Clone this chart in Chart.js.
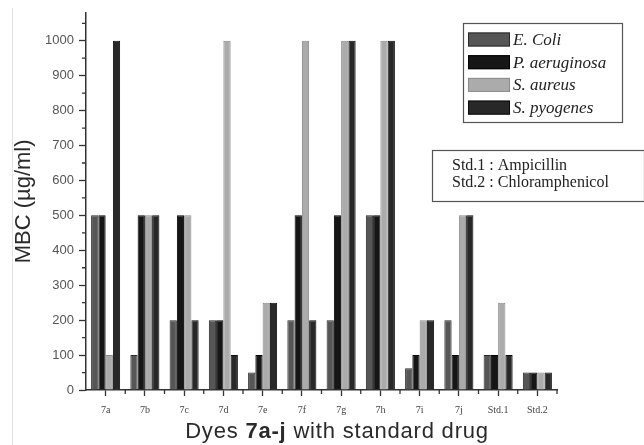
<!DOCTYPE html>
<html>
<head>
<meta charset="utf-8">
<script src="https://cdn.jsdelivr.net/npm/chart.js@4.4.1/dist/chart.umd.min.js"></script>
<style>
  body { margin: 0; background: #fff; }
  canvas { display: block; }
</style>
</head>
<body>
<canvas id="mbcChart" width="644" height="445"></canvas>
<script>
// dyes + standard drugs
const categories = ['7a', '7b', '7c', '7d', '7e', '7f', '7g', '7h', '7i', '7j', 'Std.1', 'Std.2'];

// MBC values (ug/ml)
const eColi       = [500, 100, 200, 200, 50, 200, 200, 500, 62.5, 200, 100, 50];
const pAeruginosa = [500, 500, 500, 200, 100, 500, 500, 500, 100, 100, 100, 50];
const sAureus     = [100, 500, 500, 1000, 250, 1000, 1000, 1000, 200, 500, 250, 50];
const sPyogenes   = [1000, 500, 200, 100, 250, 200, 1000, 1000, 200, 500, 100, 50];

const seriesNames = ['E. Coli', 'P. aeruginosa', 'S. aureus', 'S. pyogenes'];
const yTicks = [0, 100, 200, 300, 400, 500, 600, 700, 800, 900, 1000];
const stdNotes = ['Std.1 : Ampicillin', 'Std.2 : Chloramphenicol'];

const fillColors = ['#565656', '#161616', '#ababab', '#282828'];
const edgeColors = ['#2a2a2a', '#000000', '#8a8a8a', '#0a0a0a'];

//build datasets
function makeDataset(i, values){
    return {
        label: seriesNames[i],
        data: values,
        backgroundColor: fillColors[i],
        borderColor: edgeColors[i],
        borderWidth: 1,
        categoryPercentage: 0.74,
        barPercentage: 1.0
    };
}

// minor ticks, legend boxes and the x title (part of it is bold)
const extrasPlugin = {
    id: 'extras',
    afterDraw(chart){
        const ctx = chart.ctx;
        const x = chart.scales.x;
        const y = chart.scales.y;
        ctx.save();

        // faint scan border on the left
        ctx.strokeStyle = '#e2e2e2';
        ctx.lineWidth = 1;
        ctx.beginPath();
        ctx.moveTo(12.5, 8);
        ctx.lineTo(12.5, 445);
        ctx.stroke();

        // minor ticks
        ctx.strokeStyle = '#333';
        ctx.lineWidth = 1.3;
        ctx.beginPath();
        for(let v = 50; v <= 1050; v += 100){
            const py = y.getPixelForValue(v);
            ctx.moveTo(x.left - 4, py);
            ctx.lineTo(x.left, py);
        }
        for(let i = 0; i < categories.length; i++){
            const px = (x.getPixelForValue(i) + x.getPixelForValue(i + 1)) / 2;
            ctx.moveTo(px, y.bottom);
            ctx.lineTo(px, y.bottom + 4);
        }
        ctx.stroke();

        // legend box
        ctx.fillStyle = '#fff';
        ctx.strokeStyle = '#555';
        ctx.lineWidth = 1.2;
        ctx.fillRect(463, 23, 160, 100);
        ctx.strokeRect(463.5, 23.5, 159, 99);
        ctx.font = 'italic 17px "Liberation Serif"';
        ctx.textBaseline = 'middle';
        chart.data.datasets.forEach((ds, i) => {
            const cy = 39.5 + i * 22.7;
            ctx.fillStyle = ds.backgroundColor;
            ctx.fillRect(468, cy - 7, 42, 14);
            ctx.strokeStyle = ds.borderColor;
            ctx.lineWidth = 1;
            ctx.strokeRect(468.5, cy - 6.5, 41, 13);
            ctx.fillStyle = '#222';
            ctx.fillText(ds.label, 513, cy + 1);
        });

        // standard drug note
        ctx.strokeStyle = '#555';
        ctx.lineWidth = 1.2;
        ctx.strokeRect(432.5, 150.5, 212, 51);
        ctx.font = '16px "Liberation Serif"';
        ctx.fillStyle = '#222';
        stdNotes.forEach((t, i) => ctx.fillText(t, 452, 166 + i * 17));

        // x title: "Dyes 7a-j with standard drug"
        const parts = [['Dyes ', ''], ['7a-j', 'bold '], [' with standard drug', '']];
        ctx.letterSpacing = '0.8px';
        ctx.textBaseline = 'alphabetic';
        let total = 0;
        parts.forEach(p => {
            ctx.font = p[1] + '22px "Liberation Sans"';
            total += ctx.measureText(p[0]).width;
        });
        let tx = 337 - total / 2;
        ctx.fillStyle = '#2a2a2a';
        parts.forEach(p => {
            ctx.font = p[1] + '22px "Liberation Sans"';
            ctx.fillText(p[0], tx, 438);
            tx += ctx.measureText(p[0]).width;
        });
        ctx.restore();
    }
};

const canvas = document.getElementById('mbcChart').getContext('2d');
new Chart(canvas, {
    type: 'bar',
    data: {
        labels: categories,
        datasets: [
            makeDataset(0, eColi),
            makeDataset(1, pAeruginosa),
            makeDataset(2, sAureus),
            makeDataset(3, sPyogenes)
        ]
    },
    options: {
        responsive: false,
        animation: false,
        layout: {
            padding: { left: 0, right: 87, top: 10, bottom: 0 }
        },
        plugins: {
            legend: { display: false },
            tooltip: { enabled: false }
        },
        scales: {
            x: {
                offset: true,
                afterFit(scale){ scale.height = 55; },
                grid: {
                    offset: false,
                    drawOnChartArea: false,
                    tickLength: 6,
                    tickWidth: 1.3,
                    tickColor: '#333'
                },
                border: { display: true, color: '#333', width: 1.5 },
                ticks: {
                    padding: 8,
                    color: '#444',
                    font: { family: 'Liberation Serif', size: 10 }
                }
            },
            y: {
                min: 0,
                max: 1080,
                afterFit(scale){ scale.width = 86; },
                afterBuildTicks(scale){
                    scale.ticks = yTicks.map(v => ({ value: v }));
                },
                grid: {
                    drawOnChartArea: false,
                    tickLength: 7,
                    tickWidth: 1.3,
                    tickColor: '#333'
                },
                border: { display: true, color: '#333', width: 1.5 },
                ticks: {
                    padding: 5,
                    color: '#555',
                    font: { family: 'Liberation Sans', size: 13 },
                    callback: v => String(v)
                },
                title: {
                    display: true,
                    text: 'MBC (µg/ml)',
                    color: '#2a2a2a',
                    padding: { top: 11, bottom: 0 },
                    font: { family: 'Liberation Sans', size: 22 }
                }
            }
        }
    },
    plugins: [extrasPlugin]
});
</script>
</body>
</html>
